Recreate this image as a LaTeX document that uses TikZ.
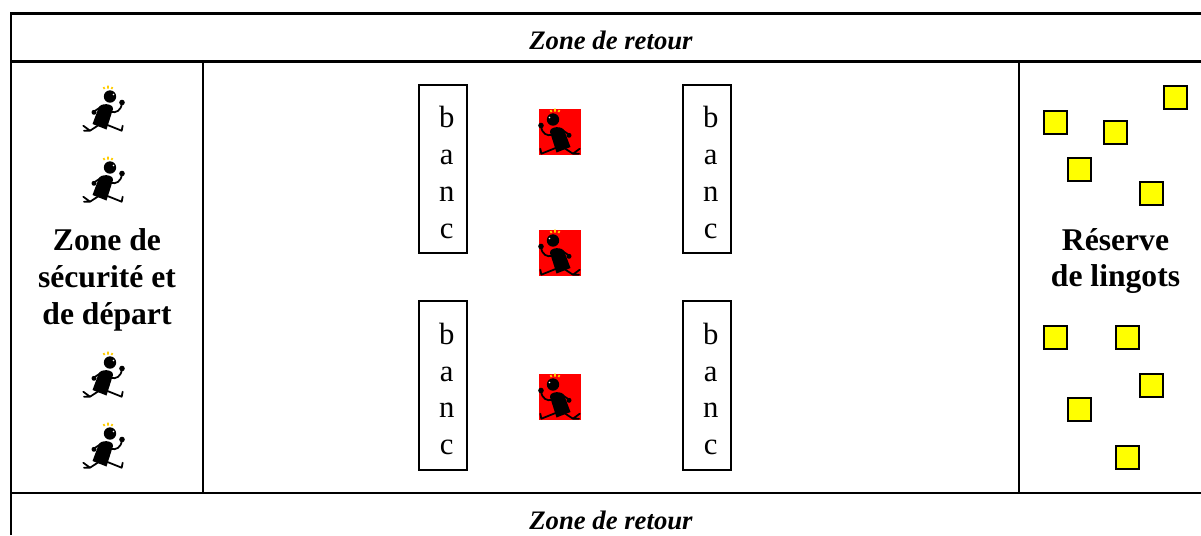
\documentclass[tikz,border=0pt]{standalone}
\usepackage{fontspec}
\setmainfont{Liberation Serif}
\usetikzlibrary{positioning}
\definecolor{lingotcolor}{RGB}{255, 255, 0}
\definecolor{sparkcolor}{RGB}{255, 204, 0}

\tikzset{
  zone/.style={font=\fontsize{15.2}{18}\selectfont\bfseries\itshape, inner sep=0pt},
  title/.style={font=\fontsize{18}{21}\selectfont\bfseries, align=center, inner sep=0pt},
  banc/.style={draw, line width=1.2pt, minimum width=47.5\unitlength, inner sep=0pt},
  bancletters/.style={align=center, inner sep=0pt, xshift=3.7\unitlength, yshift=-3.5\unitlength,
    font=\fontsize{17.5}{21}\selectfont},
  lingot/.style={draw, line width=1.3pt, fill=lingotcolor, minimum size=23.5\unitlength, inner sep=0pt},
  mat/.style={fill=red, minimum width=42\unitlength, minimum height=46\unitlength, inner sep=0pt},
  runner/.pic={
    % sparks
    \draw[sparkcolor, line width=1pt] (0.5,-22) -- (1.5,-20) (5,-23.5) -- (5,-20.5) (9.5,-22) -- (8.5,-20);
    % head, body
    \fill (7,-12.5) circle (6.2);
    \fill[white] (10.5,-14.5) circle (0.8);
    \fill (-10.5,15) -- (-4.5,-1) .. controls (-3,-6.5) and (10.5,-6) .. (10,0) -- (3.5,20.5) -- cycle;
    % arms
    \draw[line width=1pt, line cap=round] (-1.5,-2.5) -- (-9,2.5);
    \fill (-9,3.3) circle (2.5);
    \draw[line width=1pt, line cap=round] (8,3) .. controls (13,4) and (18,2) .. (19,-6);
    \fill (19,-6.5) circle (2.8);
    % legs
    \draw[line width=1pt, line cap=round, line join=round] (-5,16.5) -- (-13,21.7) -- (-19.7,16.7) (-13,21.7) -- (-19,21.7);
    \draw[line width=1pt, line cap=round, line join=round] (2,15) -- (18.7,21.7) -- (19.7,16.7);
  }
}

\begin{document}
\begin{tikzpicture}[x=0.02cm, y=-0.02cm]
  \setlength{\unitlength}{0.02cm}
  \useasboundingbox (0,0) rectangle (1201,535);

  % Table lines
  \draw[line width=1.4pt] (11,535) -- (11,13.5) -- (1201,13.5);
  \draw[line width=1.4pt] (11,61.5) -- (1201,61.5);
  \draw[line width=1.4pt] (11,493) -- (1201,493);
  \draw[line width=1.4pt] (203,61.5) -- (203,493);
  \draw[line width=1.4pt] (1019,61.5) -- (1019,493);

  % Zones
  \node[zone] (retourhaut) at (611,40) {Zone de retour};
  \node[zone] (retourbas) at (611,520) {Zone de retour};
  \node[title] (depart) at (107,280) {Zone de\\sécurité et\\de départ};
  \node[title] (reserve) at (1115.5,261) {Réserve\\de lingots};

  % Runners on the left
  \foreach \ya in {109,180,375,446}
    \pic at (103,\ya) {runner};

  % Benches
  \node[banc, minimum height=168\unitlength, label={[bancletters]center:b\\a\\n\\c}] (banca) at (443,169) {};
  \node[banc, minimum height=168\unitlength, label={[bancletters]center:b\\a\\n\\c}] (bancb) at (707,169) {};
  \node[banc, minimum height=169\unitlength, label={[bancletters]center:b\\a\\n\\c}] (bancc) at (443,385.5) {};
  \node[banc, minimum height=169\unitlength, label={[bancletters]center:b\\a\\n\\c}] (bancd) at (707,385.5) {};

  % Red mats with the guards
  \foreach \ya [count=\ia] in {132,253,397} {
    \node[mat] (mat\ia) at (560,\ya) {};
    \pic[xscale=-1] at (mat\ia) {runner};
  }

  % Ingots
  \foreach \xa/\ya [count=\ia] in {1055.5/122.5,1115.5/132.5,1175.5/97.5,1079.5/169.5,1151.5/193.5,1055.5/337.5,1127.5/337.5,1151.5/385.5,1079.5/409.5,1127.5/457.5}
    \node[lingot] (lingot\ia) at (\xa,\ya) {};
\end{tikzpicture}
\end{document}
